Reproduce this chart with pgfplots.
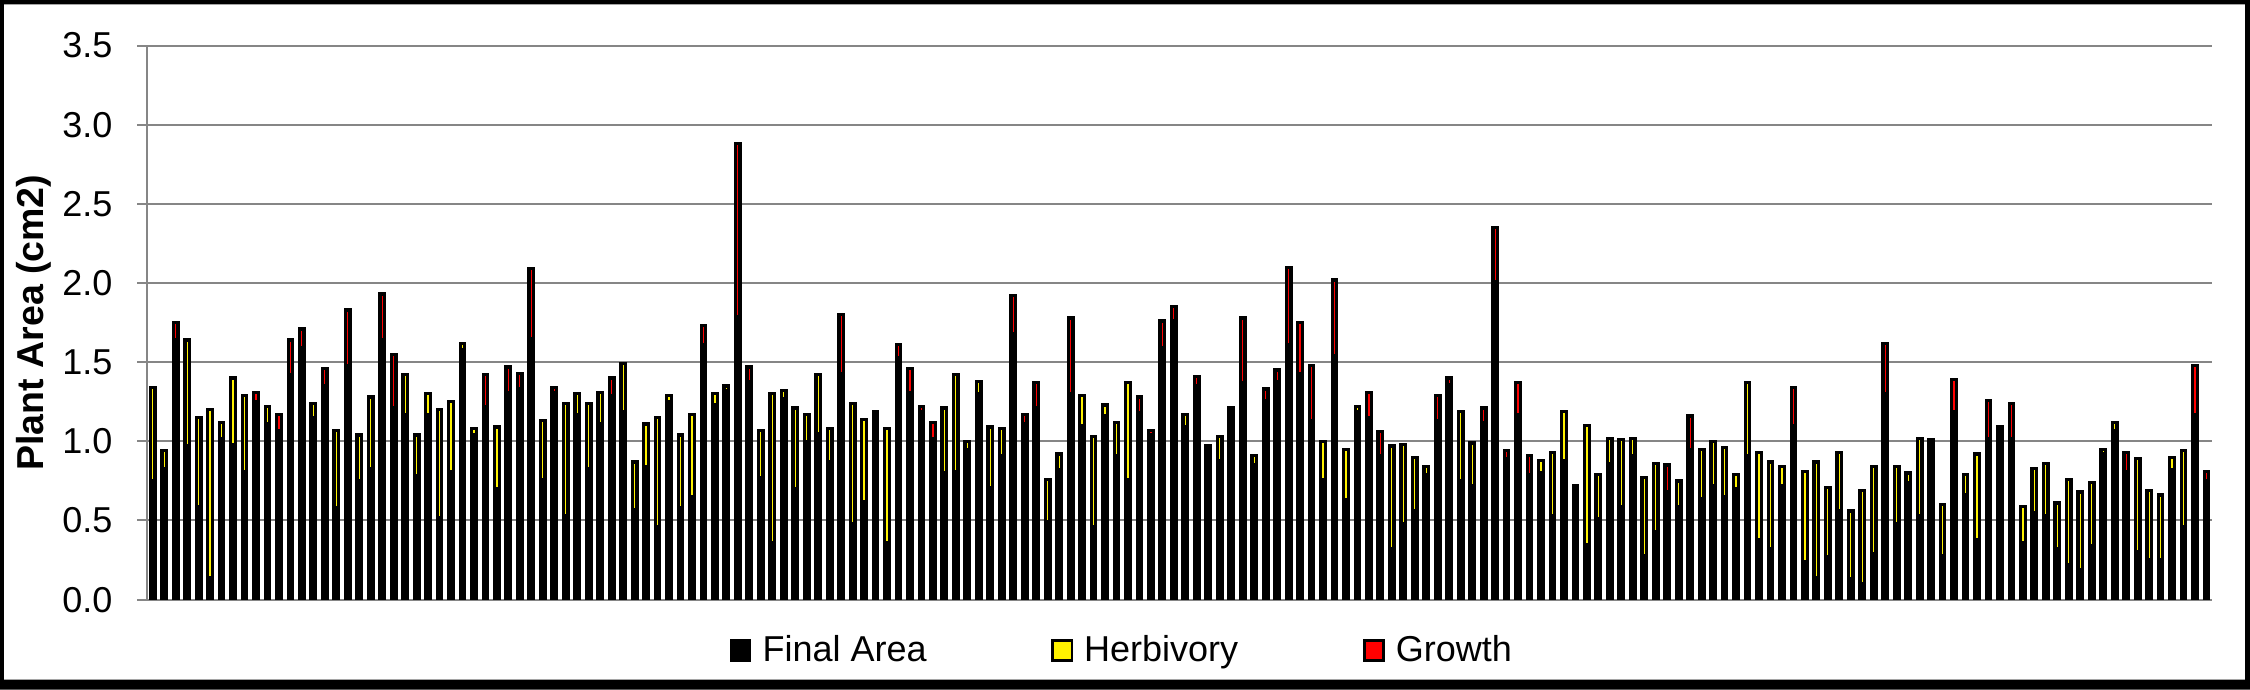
\documentclass[border=0pt]{standalone}
\usepackage{fontspec}
\setmainfont{Liberation Sans}
\usepackage{pgfplots}
\usepackage{pgfplotstable}
\pgfplotsset{compat=1.18}
\definecolor{gridgray}{RGB}{134,134,134}
\pgfplotstableread{
x F H G
0 0.75 0.59 0
1 0.83 0.11 0
2 1.64 0 0.11
3 0.97 0.67 0
4 0.59 0.56 0
5 0.14 1.06 0
6 1.02 0.10 0
7 0.98 0.42 0
8 0.81 0.48 0
9 1.25 0 0.06
10 1.11 0.11 0
11 1.07 0 0.10
12 1.42 0 0.22
13 1.59 0 0.12
14 1.15 0.09 0
15 1.35 0 0.11
16 0.58 0.49 0
17 1.48 0 0.35
18 0.75 0.29 0
19 0.83 0.45 0
20 1.64 0 0.29
21 1.21 0 0.34
22 1.17 0.25 0
23 0.78 0.26 0
24 1.17 0.13 0
25 0.52 0.68 0
26 0.81 0.44 0
27 1.58 0.04 0
28 1.04 0.04 0
29 1.22 0 0.20
30 0.70 0.39 0
31 1.31 0 0.16
32 1.33 0 0.10
33 1.65 0 0.44
34 0.76 0.37 0
35 1.31 0 0.03
36 0.53 0.71 0
37 1.17 0.13 0
38 0.83 0.41 0
39 1.11 0.20 0
40 1.29 0 0.11
41 1.19 0.30 0
42 0.57 0.30 0
43 0.84 0.27 0
44 0.46 0.69 0
45 1.25 0.04 0
46 0.58 0.46 0
47 0.65 0.52 0
48 1.61 0 0.12
49 1.23 0.07 0
50 1.32 0.03 0
51 1.79 0 1.09
52 1.38 0 0.09
53 0.77 0.30 0
54 0.36 0.94 0
55 1.27 0.05 0
56 0.70 0.51 0
57 1.00 0.17 0
58 1.05 0.37 0
59 0.87 0.21 0
60 1.43 0 0.37
61 0.48 0.76 0
62 0.62 0.52 0
63 1.19 0 0
64 0.36 0.72 0
65 1.53 0 0.08
66 1.31 0 0.15
67 1.19 0 0.03
68 1.02 0 0.10
69 0.80 0.41 0
70 0.81 0.61 0
71 0.95 0.05 0
72 1.30 0.08 0
73 0.71 0.38 0
74 0.91 0.17 0
75 1.68 0 0.24
76 1.11 0 0.06
77 1.21 0 0.16
78 0.49 0.27 0
79 0.82 0.10 0
80 1.30 0 0.48
81 1.10 0.19 0
82 0.46 0.57 0
83 1.16 0.07 0
84 0.91 0.21 0
85 0.76 0.61 0
86 1.18 0 0.10
87 1.04 0 0.03
88 1.59 0 0.17
89 1.76 0 0.09
90 1.09 0.08 0
91 1.35 0 0.06
92 0.97 0 0
93 0.88 0.15 0
94 1.21 0 0
95 1.37 0 0.41
96 0.85 0.06 0
97 1.26 0 0.07
98 1.38 0 0.07
99 1.61 0 0.49
100 1.43 0 0.32
101 1.13 0 0.35
102 0.76 0.24 0
103 1.54 0 0.48
104 0.63 0.32 0
105 1.19 0.03 0
106 1.15 0 0.16
107 0.91 0 0.15
108 0.32 0.65 0
109 0.48 0.50 0
110 0.56 0.34 0
111 0.79 0.05 0
112 1.13 0 0.16
113 1.36 0 0.04
114 0.75 0.44 0
115 0.72 0.27 0
116 1.12 0 0.09
117 2.01 0 0.34
118 0.89 0 0.05
119 1.17 0 0.20
120 0.79 0 0.12
121 0.80 0.08 0
122 0.53 0.40 0
123 0.88 0.31 0
124 0.72 0 0
125 0.35 0.75 0
126 0.51 0.28 0
127 0.86 0.16 0
128 0.59 0.42 0
129 0.91 0.11 0
130 0.28 0.49 0
131 0.43 0.43 0
132 0.68 0 0.17
133 0.59 0.16 0
134 0.95 0 0.21
135 0.64 0.31 0
136 0.72 0.28 0
137 0.65 0.31 0
138 0.70 0.09 0
139 0.91 0.46 0
140 0.38 0.55 0
141 0.32 0.55 0
142 0.72 0.12 0
143 1.10 0 0.24
144 0.24 0.57 0
145 0.14 0.73 0
146 0.27 0.44 0
147 0.56 0.37 0
148 0.13 0.43 0
149 0.10 0.59 0
150 0.29 0.55 0
151 1.30 0 0.32
152 0.48 0.36 0
153 0.74 0.06 0
154 0.53 0.49 0
155 1.01 0 0
156 0.28 0.32 0
157 1.19 0 0.20
158 0.66 0.13 0
159 0.38 0.54 0
160 1.02 0 0.24
161 1.07 0 0.02
162 1.02 0 0.22
163 0.36 0.23 0
164 0.55 0.28 0
165 0.53 0.33 0
166 0.32 0.29 0
167 0.22 0.54 0
168 0.19 0.49 0
169 0.34 0.40 0
170 0.92 0.03 0
171 1.07 0.05 0
172 0.81 0 0.12
173 0.30 0.59 0
174 0.25 0.44 0
175 0.25 0.41 0
176 0.82 0.08 0
177 0.46 0.48 0
178 1.17 0 0.31
179 0.75 0 0.06
}\data
\begin{document}
\begin{tikzpicture}
\begin{axis}[
  scale only axis,
  width=688.5pt, height=184.7pt,
  ybar stacked,
  bar width=1.5pt,
  xmin=-0.5, xmax=179.5,
  ymin=0, ymax=3.5,
  ytick={0,0.5,1,1.5,2,2.5,3,3.5},
  xtick=\empty,
  axis x line*=bottom,
  axis y line*=left,
  axis line style={gridgray, line width=0.67pt},
  ymajorgrids,
  grid style={gridgray, line width=0.67pt},
  ytick pos=left,
  tick align=outside,
  major tick length=3.3pt,
  tick style={gridgray, line width=0.67pt},
  /pgf/number format/.cd, fixed, fixed zerofill, precision=1, assume math mode=true,
  /pgfplots/.cd,
  yticklabel style={font=\fontsize{12}{14}\selectfont, anchor=east, inner sep=0pt, xshift=-8pt},
  every axis y label/.style={at={(axis description cs:0,0.5)}, xshift=-37.7pt, rotate=90, anchor=center, font=\fontsize{12.5}{14}\selectfont\bfseries},
  ylabel={Plant Area (cm2)},
  legend columns=3,
  legend style={at={(axis description cs:0.4724,-0.092)}, anchor=center, draw=none, fill=none,
    font=\fontsize{12}{14}\selectfont, inner sep=0pt, nodes={inner sep=1.2pt},
    /tikz/every odd column/.append style={column sep=2.5pt},
    /tikz/every even column/.append style={column sep=40.4pt}},
]
\addplot[fill=black, draw=black, line width=1.1pt, legend image code/.code={\draw[fill=black, draw=black, line width=0.85pt] (0pt,-3.3pt) rectangle (6.4pt,3.3pt);}] table[x=x,y=F]{\data};
\addlegendentry{Final Area}
\addplot[fill=yellow, draw=black, line width=1.1pt, legend image code/.code={\draw[fill=yellow, draw=black, line width=0.85pt] (0pt,-3.3pt) rectangle (6.4pt,3.3pt);}] table[x=x,y=H]{\data};
\addlegendentry{Herbivory}
\addplot[fill=red, draw=black, line width=1.1pt, legend image code/.code={\draw[fill=red, draw=black, line width=0.85pt] (0pt,-3.3pt) rectangle (6.4pt,3.3pt);}] table[x=x,y=G]{\data};
\addlegendentry{Growth}
\end{axis}
\fill[black, even odd rule] ([shift={(-49pt,-30pt)}]current axis.south west) rectangle ([shift={(12.6pt,15.2pt)}]current axis.north east)
  ([shift={(-47.67pt,-26.67pt)}]current axis.south west) rectangle ([shift={(10.93pt,13.73pt)}]current axis.north east);
\pgfresetboundingbox
\path[use as bounding box] ([shift={(-49pt,-30pt)}]current axis.south west) rectangle ([shift={(12.6pt,15.2pt)}]current axis.north east);
\end{tikzpicture}
\end{document}
